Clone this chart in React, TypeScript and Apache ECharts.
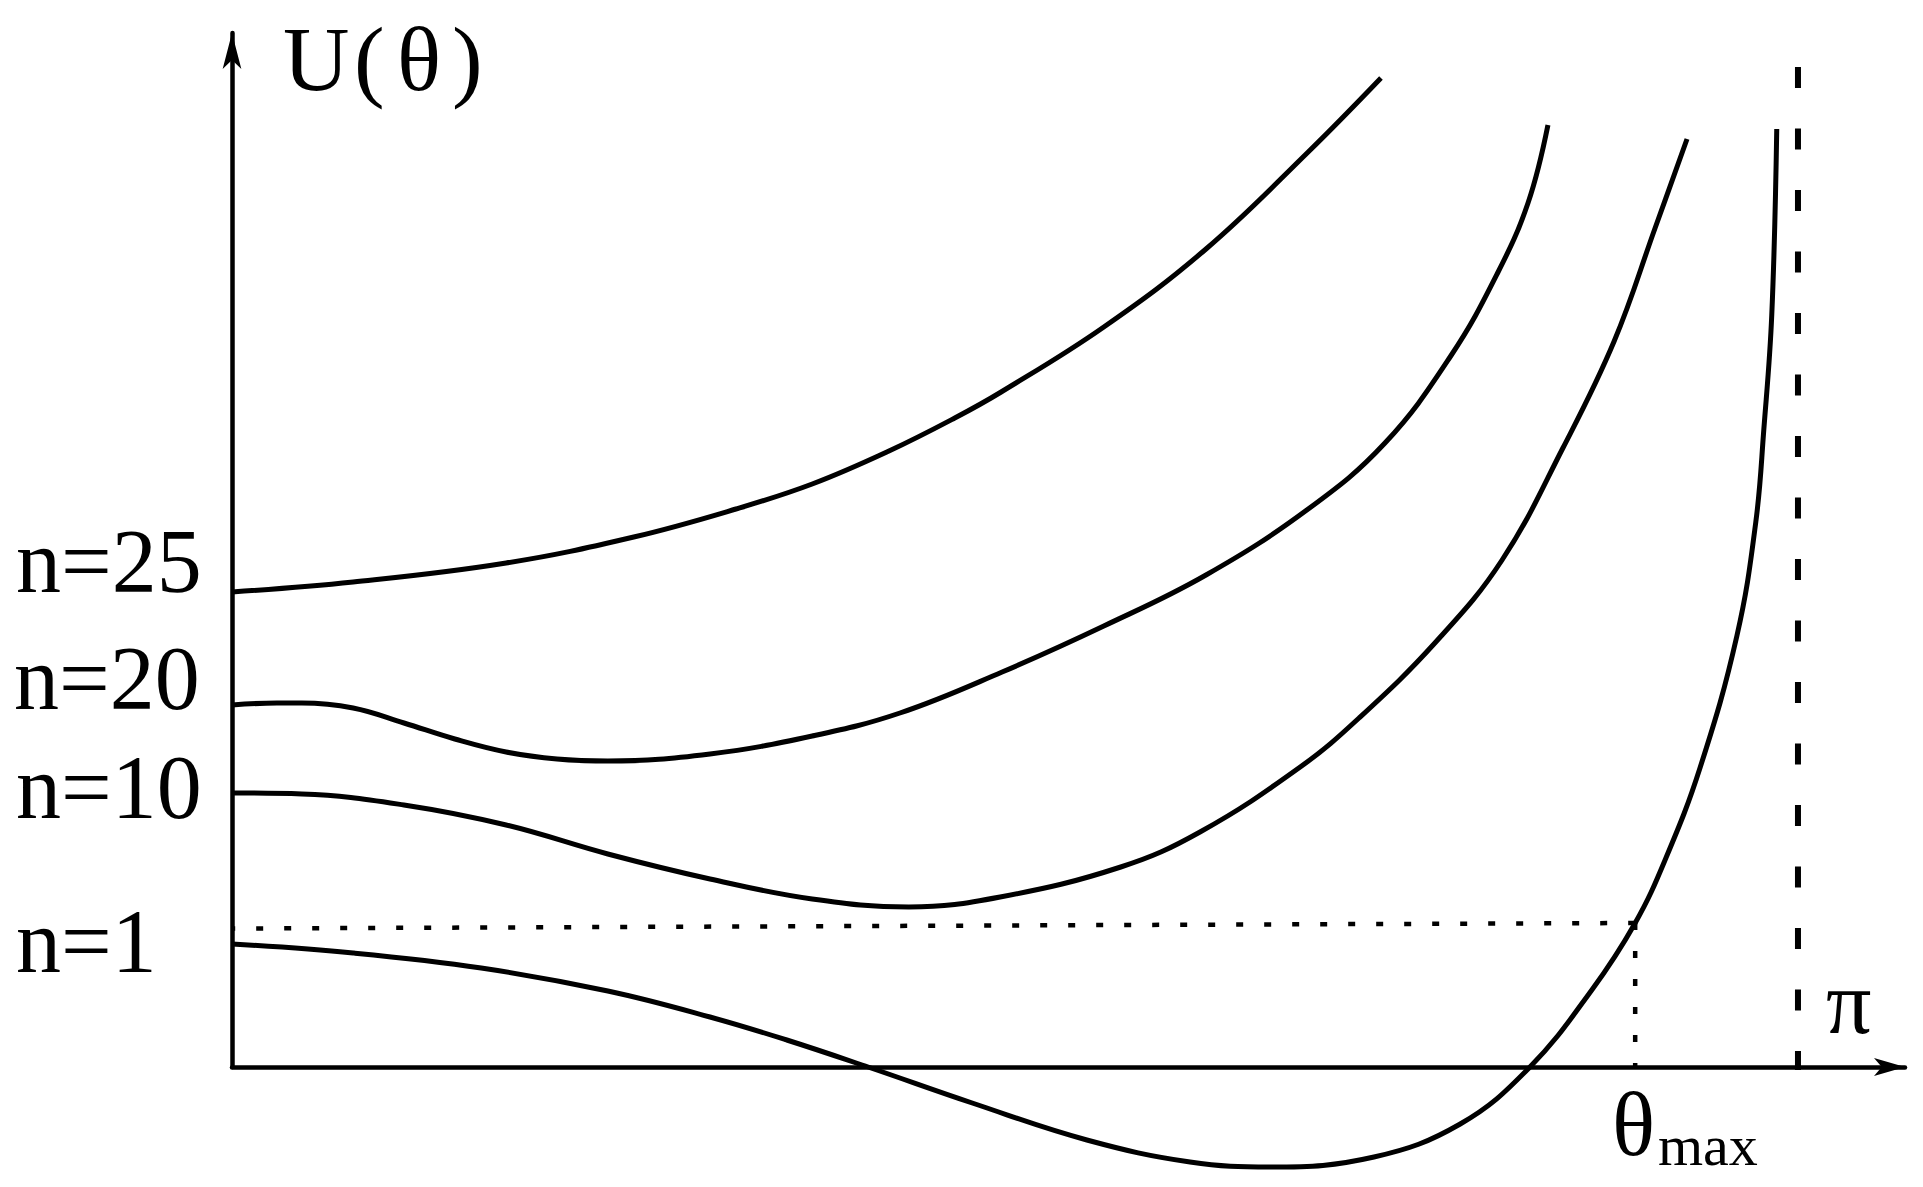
import React, { useEffect, useRef } from "react";
import * as echarts from "echarts";

// Potential curves U(θ) as [θ, U] pairs (U in arbitrary units)
const curveN25: [number, number][] = [
  [0, 4.75], [0.243, 4.85], [0.55, 5.04], [0.806, 5.3], [1.011, 5.58], [1.164, 5.83],
  [1.318, 6.16], [1.45, 6.49], [1.543, 6.75], [1.749, 7.4], [1.954, 8.18], [2.159, 9.15],
  [2.305, 9.89],
];
const curveN20: [number, number][] = [
  [0, 3.62], [0.09, 3.64], [0.14, 3.64], [0.243, 3.59], [0.345, 3.44], [0.447, 3.28],
  [0.55, 3.15], [0.652, 3.08], [0.754, 3.06], [0.959, 3.13], [1.164, 3.31], [1.34, 3.54],
  [1.545, 3.95], [1.749, 4.41], [1.954, 4.92], [2.159, 5.58], [2.313, 6.24], [2.445, 7.11],
  [2.538, 7.93], [2.6, 8.64], [2.64, 9.42],
];
const curveN10: [number, number][] = [
  [0, 2.74], [0.14, 2.73], [0.345, 2.62], [0.55, 2.42], [0.754, 2.13], [0.959, 1.88],
  [1.164, 1.68], [1.358, 1.6], [1.541, 1.7], [1.783, 2.0], [1.942, 2.35], [2.143, 3.0],
  [2.261, 3.49], [2.415, 4.25], [2.548, 5.07], [2.67, 6.19], [2.773, 7.26], [2.855, 8.39],
  [2.919, 9.28],
];
const curveN1: [number, number][] = [
  [0, 1.23], [0.243, 1.14], [0.5, 0.99], [0.754, 0.76], [0.959, 0.5], [1.113, 0.27],
  [1.276, 0.0], [1.485, -0.36], [1.715, -0.73], [1.922, -0.95], [2.084, -1.0], [2.291, -0.9],
  [2.464, -0.57], [2.602, -0.01], [2.728, 0.77], [2.815, 1.44], [2.875, 2.07], [2.945, 2.99],
  [3.019, 4.31], [3.057, 5.45], [3.073, 6.37], [3.089, 7.52], [3.099, 9.38],
];

// Reference lines
const thetaMax = 2.815;
const energyLevel: [number, number][] = [[thetaMax, 1.44], [0, 1.385]];
const thetaMaxDrop: [number, number][] = [[thetaMax, 1.44], [thetaMax, 0]];
const piLine: [number, number][] = [[Math.PI, 10.0], [Math.PI, -0.03]];

// Axis ranges
const xMax = 3.3563;
const yMax = 10.34;

// Labels
const curveLabels = ["n=25", "n=20", "n=10", "n=1"];
const yAxisTitle = ["U", "(", "θ", ")"];
const piLabel = "π";
const thetaMaxLabel = ["θ", "max"];

const FONT = '"Liberation Serif", "Times New Roman", serif';

function txt(text: string, x: number, baseline: number, size: number) {
  return {
    type: "text",
    x,
    y: baseline - 0.3375 * size,
    silent: true,
    style: {
      text,
      fill: "#000",
      font: `${size}px ${FONT}`,
      align: "left",
      verticalAlign: "middle",
    },
  };
}

export default function App() {
  const ref = useRef<HTMLDivElement>(null);

  useEffect(() => {
    document.body.style.margin = "0";
    if (!ref.current) return;
    const chart = echarts.init(ref.current, undefined, { renderer: "svg" });

    const curve = (data: [number, number][]) => ({
      type: "line",
      data,
      smooth: 0.4,
      symbol: "none",
      clip: false,
      silent: true,
      z: 5,
      lineStyle: { color: "#000", width: 5 },
    });
    const guide = (data: [number, number][], width: number, dash: number[]) => ({
      type: "line",
      data,
      symbol: "none",
      silent: true,
      clip: false,
      z: 2,
      lineStyle: { color: "#000", width, type: dash },
    });

    chart.setOption({
      animation: false,
      backgroundColor: "#fff",
      grid: { left: 232, right: 18, top: 33, bottom: 120, containLabel: false, outerBoundsMode: "none" },
      xAxis: {
        type: "value",
        min: 0,
        max: xMax,
        axisLine: {
          show: true,
          symbol: ["none", "arrow"],
          symbolSize: [13.5, 31],
          lineStyle: { color: "#000", width: 4.5 },
        },
        axisTick: { show: false },
        axisLabel: { show: false },
        splitLine: { show: false },
      },
      yAxis: {
        type: "value",
        min: 0,
        max: yMax,
        axisLine: {
          show: true,
          onZero: false,
          symbol: ["none", "arrow"],
          symbolSize: [14, 36],
          lineStyle: { color: "#000", width: 4.5 },
        },
        axisTick: { show: false },
        axisLabel: { show: false },
        splitLine: { show: false },
      },
      series: [
        guide(energyLevel, 4.5, [7, 21]),
        guide(thetaMaxDrop, 4.5, [7, 21]),
        guide(piLine, 6, [21, 40.5]),
        curve(curveN25),
        curve(curveN20),
        curve(curveN10),
        curve(curveN1),
      ],
      graphic: [
        txt(yAxisTitle[0], 283, 90, 92),
        txt(yAxisTitle[1], 354, 90, 92),
        txt(yAxisTitle[2], 397, 90, 92),
        txt(yAxisTitle[3], 452, 90, 92),
        txt(curveLabels[0], 16, 592, 90),
        txt(curveLabels[1], 14, 709, 90),
        txt(curveLabels[2], 16, 818, 90),
        txt(curveLabels[3], 16, 972, 90),
        txt(piLabel, 1826, 1033, 90),
        txt(thetaMaxLabel[0], 1612, 1155, 90),
        txt(thetaMaxLabel[1], 1658, 1165, 58),
      ],
    });

    return () => chart.dispose();
  }, []);

  return <div ref={ref} style={{ width: 1923, height: 1187, background: "#fff" }} />;
}
